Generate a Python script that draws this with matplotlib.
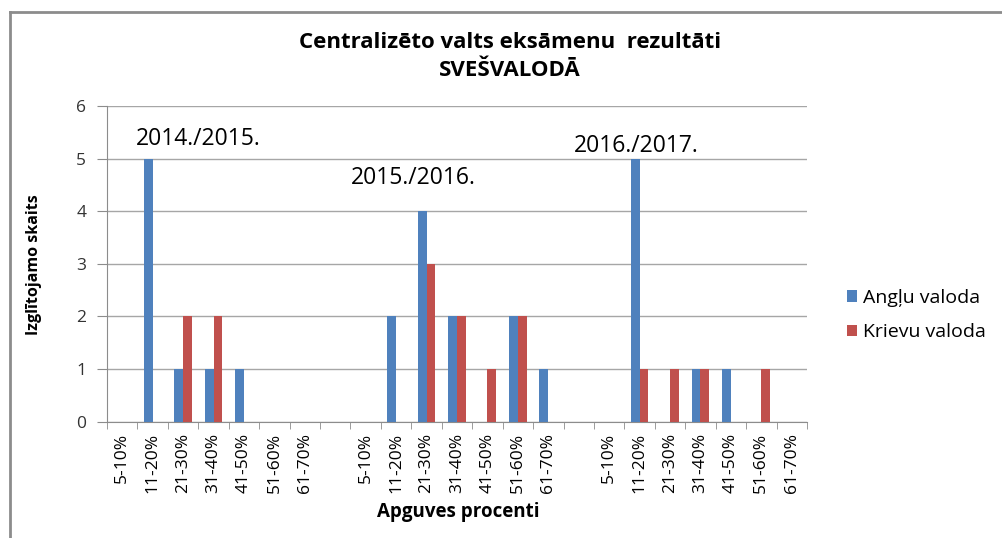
import matplotlib
matplotlib.use("Agg")
import matplotlib.pyplot as plt
import numpy as np
from matplotlib.lines import Line2D

plt.rcParams['font.family'] = ['Open Sans', 'DejaVu Sans']

# data (three school years, one empty slot between them)
ranges = ["5-10%", "11-20%", "21-30%", "31-40%", "41-50%", "51-60%", "61-70%"]
categories = ranges + [""] + ranges + [""] + ranges
anglu = [0, 5, 1, 1, 1, 0, 0, 0, 0, 2, 4, 2, 0, 2, 1, 0, 0, 5, 0, 1, 1, 0, 0]
krievu = [0, 0, 2, 2, 0, 0, 0, 0, 0, 0, 3, 2, 1, 2, 0, 0, 0, 1, 1, 1, 0, 1, 0]
years = ["2014./2015.", "2015./2016.", "2016./2017."]
year_pos = [(2.49, 5.37), (9.57, 4.63), (16.9, 5.24)]

W, H = 1002, 538
fig = plt.figure(figsize=(W / 100, H / 100), dpi=100)
ax = fig.add_axes([107 / W, 1 - 421.7 / H, 700 / W, (421.7 - 106) / H])

blue = "#4F81BD"
red = "#C0504D"
x = np.arange(len(categories))
w = 0.29
ax.bar(x - w / 2, anglu, w, color=blue, label="Angļu valoda", zorder=3)
ax.bar(x + w / 2, krievu, w, color=red, label="Krievu valoda", zorder=3)

ax.set_xlim(-0.5, len(categories) - 0.5)
ax.set_ylim(0, 6)
ax.set_yticks(range(7))
ax.yaxis.grid(True, color="#a6a6a6", linewidth=1)
ax.set_axisbelow(True)

ax.set_xticks(x)
ax.set_xticklabels(categories, rotation=90, fontsize=12.5)
ax.set_xticks(np.arange(-0.5, len(categories)), minor=True)
ax.tick_params(axis="x", which="major", length=0, pad=8)
ax.tick_params(axis="x", which="minor", length=5, color="#8c8c8c", direction="out")
ax.tick_params(axis="y", length=7, color="#8c8c8c", labelsize=12.5, pad=8,
               labelcolor="#333333")

for s in ["top", "right"]:
    ax.spines[s].set_visible(False)
for s in ["left", "bottom"]:
    ax.spines[s].set_color("#8c8c8c")

for label, (px, py) in zip(years, year_pos):
    ax.text(px, py, label, fontsize=16.5, ha="center", va="center")

fig.text(510 / W, 1 - 42 / H, "Centralizēto valts eksāmenu  rezultāti",
         ha="center", va="center", fontsize=16, fontweight="bold")
fig.text(510 / W, 1 - 70 / H, "SVEŠVALODĀ",
         ha="center", va="center", fontsize=16, fontweight="bold")
fig.text(34 / W, 1 - 265 / H, "Izglītojamo skaits", rotation=90,
         ha="center", va="center", fontsize=11.5, fontweight="bold")
fig.text(458 / W, 1 - 512 / H, "Apguves procenti",
         ha="center", va="center", fontsize=13.5, fontweight="bold")

fig.legend(loc="center left", bbox_to_anchor=(829 / W, 1 - 315 / H),
           frameon=False, fontsize=14, handlelength=0.55, handleheight=0.55,
           handletextpad=0.3, labelspacing=0.85)

# outer chart frame (only top and left edges visible)
fig.add_artist(Line2D([10 / W, 10 / W], [0, 1 - 12 / H], color="#8c8c8c", lw=2))
fig.add_artist(Line2D([10 / W, 1], [1 - 12 / H, 1 - 12 / H], color="#8c8c8c", lw=2))

fig.savefig("out.png", dpi=100)
